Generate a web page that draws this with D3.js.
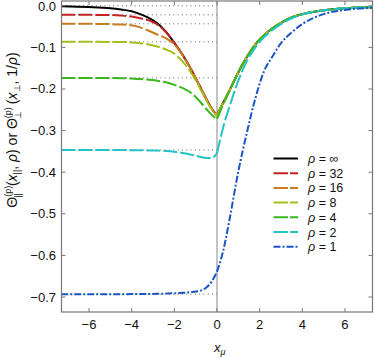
<!DOCTYPE html>
<html>
<head>
<meta charset="utf-8">
<script src="https://cdn.jsdelivr.net/npm/d3@7"></script>
<style>
  body { margin: 0; background: #fff; }
  svg { display: block; font-family: "Liberation Sans", Arial, sans-serif; }
  .tick-label { font-size: 13px; fill: #111; }
  .legend-label { font-size: 12.5px; fill: #111; }
</style>
</head>
<body>
<svg id="plot" width="374" height="358"></svg>
<script>
// x grid shared by every series
const xGrid = [-7.3, -6, -5, -4.5, -4, -3.6, -3.2, -2.8, -2.4, -2, -1.6, -1.2, -0.8, -0.5, -0.25, 0,
  0.3, 0.6, 1, 1.4, 1.8, 2.2, 2.6, 3, 3.5, 4, 5, 6, 7.3];

const rhoInf = [-0.001, -0.003, -0.006, -0.009, -0.013, -0.020, -0.029, -0.042, -0.062, -0.089, -0.119, -0.154, -0.194, -0.224, -0.247, -0.263,
  -0.232, -0.202, -0.160, -0.123, -0.093, -0.071, -0.054, -0.041, -0.028, -0.020, -0.011, -0.006, -0.003];
const rho32 = [-0.0217, -0.0218, -0.0222, -0.0235, -0.026, -0.030, -0.035, -0.045, -0.063, -0.089, -0.119, -0.154, -0.194, -0.224, -0.247, -0.263,
  -0.232, -0.202, -0.160, -0.123, -0.093, -0.071, -0.054, -0.041, -0.028, -0.020, -0.011, -0.006, -0.003];
const rho16 = [-0.0433, -0.0434, -0.0440, -0.0448, -0.047, -0.052, -0.060, -0.069, -0.078, -0.093, -0.120, -0.154, -0.194, -0.224, -0.247, -0.264,
  -0.232, -0.202, -0.160, -0.123, -0.093, -0.071, -0.054, -0.041, -0.028, -0.020, -0.011, -0.006, -0.003];
const rho8 = [-0.0866, -0.0866, -0.0868, -0.087, -0.088, -0.090, -0.093, -0.098, -0.105, -0.115, -0.135, -0.162, -0.198, -0.227, -0.249, -0.265,
  -0.232, -0.202, -0.160, -0.123, -0.093, -0.071, -0.054, -0.041, -0.028, -0.020, -0.011, -0.006, -0.003];
const rho4 = [-0.1733, -0.1733, -0.1735, -0.174, -0.175, -0.176, -0.178, -0.180, -0.184, -0.190, -0.198, -0.210, -0.230, -0.248, -0.262, -0.272,
  -0.236, -0.203, -0.160, -0.123, -0.093, -0.071, -0.054, -0.041, -0.028, -0.020, -0.011, -0.006, -0.003];
const rho2 = [-0.3466, -0.3466, -0.3467, -0.3468, -0.347, -0.3472, -0.3476, -0.348, -0.349, -0.351, -0.354, -0.358, -0.363, -0.366, -0.366, -0.355,
  -0.290, -0.240, -0.180, -0.133, -0.100, -0.076, -0.058, -0.044, -0.030, -0.021, -0.011, -0.006, -0.003];
const rho1 = [-0.6931, -0.6931, -0.6931, -0.6931, -0.6930, -0.6929, -0.6927, -0.6923, -0.6917, -0.691, -0.690, -0.688, -0.685, -0.677, -0.663, -0.639,
  -0.587, -0.510, -0.398, -0.305, -0.222, -0.158, -0.122, -0.090, -0.064, -0.044, -0.020, -0.010, -0.005];

const seriesLabels = ['\u221E', '32', '16', '8', '4', '2', '1'];
const seriesValues = [rhoInf, rho32, rho16, rho8, rho4, rho2, rho1];
const seriesColors = ['#000000', '#c42324', '#c97b1f', '#a3c11d', '#3bb71d', '#22c3c6', '#1a55c2'];
const seriesDash = [null, '14,3', '14,3', '14,3', '14,3', '14,3', '7,2,2,2'];
// left asymptotes -ln2/rho
const asymptotes = [0, -0.0217, -0.0433, -0.0866, -0.1733, -0.3466, -0.6931];

const xTicks = [-6, -4, -2, 0, 2, 4, 6];
const yTicks = [0, -0.1, -0.2, -0.3, -0.4, -0.5, -0.6, -0.7];

const svg = d3.select('#plot');
const plotL = 61.5, plotR = 372.5, plotT = 1, plotB = 312;

const x = d3.scaleLinear().domain([-7.29, 7.29]).range([plotL, plotR]);
const y = d3.scaleLinear().domain([0.0115, -0.736]).range([plotT, plotB]);
const fmt = v => (v === 0 ? '0.0' : d3.format('.1f')(v).replace('-', '\u2212'));

const g = svg.append('g');

// dotted asymptote guides
g.selectAll('.guide')
  .data(asymptotes)
  .join('line')
  .attr('x1', plotL).attr('x2', x(0))
  .attr('y1', d => y(d)).attr('y2', d => y(d))
  .attr('stroke', '#666')
  .attr('stroke-width', 1)
  .attr('stroke-dasharray', '1,3.3');

// vertical line at x = 0
g.append('line')
  .attr('x1', x(0)).attr('x2', x(0))
  .attr('y1', plotT).attr('y2', plotB)
  .attr('stroke', '#888').attr('stroke-width', 1);

// curves, drawn as two monotone pieces so the cusp at 0 stays sharp
const line = d3.line().x(d => x(d[0])).y(d => y(d[1])).curve(d3.curveMonotoneX);
seriesValues.forEach((vals, i) => {
  const pts = xGrid.map((xv, j) => [xv, vals[j]]);
  const leftPts = pts.filter(p => p[0] <= 0);
  const rightPts = pts.filter(p => p[0] >= 0);
  g.append('path')
    .attr('d', line(leftPts) + line(rightPts))
    .attr('fill', 'none')
    .attr('stroke', seriesColors[i])
    .attr('stroke-width', 2)
    .attr('stroke-dasharray', seriesDash[i]);
});

// frame
svg.append('rect')
  .attr('x', plotL).attr('y', plotT)
  .attr('width', plotR - plotL).attr('height', plotB - plotT)
  .attr('fill', 'none').attr('stroke', '#777').attr('stroke-width', 1.2);

// ticks (inside, all four sides)
const tl = 4;
svg.selectAll('.xt')
  .data(xTicks)
  .join('path')
  .attr('d', d => `M${x(d)},${plotB}v${-tl}M${x(d)},${plotT}v${tl}`)
  .attr('stroke', '#777');
svg.selectAll('.yt')
  .data(yTicks)
  .join('path')
  .attr('d', d => `M${plotL},${y(d)}h${tl}M${plotR},${y(d)}h${-tl}`)
  .attr('stroke', '#777');

svg.selectAll('.xl')
  .data(xTicks)
  .join('text')
  .attr('class', 'tick-label')
  .attr('x', d => x(d))
  .attr('y', 329)
  .attr('text-anchor', 'middle')
  .text(d => String(d).replace('-', '\u2212'));
svg.selectAll('.yl')
  .data(yTicks)
  .join('text')
  .attr('class', 'tick-label')
  .attr('x', 56)
  .attr('y', d => Math.max(y(d) + 4.5, 11))
  .attr('text-anchor', 'end')
  .text(fmt);

// axis titles
const xt = svg.append('text')
  .attr('x', 214).attr('y', 352)
  .attr('font-size', 13).attr('fill', '#111');
xt.append('tspan').attr('font-style', 'italic').text('x');
xt.append('tspan').attr('font-style', 'italic').attr('font-size', 9).attr('dy', 3).text('\u03BC');

const yt = svg.append('text')
  .attr('transform', 'translate(17,130) rotate(-90)')
  .attr('text-anchor', 'middle')
  .attr('font-size', 14).attr('fill', '#111');
yt.append('tspan').text('\u0398');
yt.append('tspan').attr('font-size', 9).attr('dy', -6).text('(p)');
yt.append('tspan').attr('font-size', 9).attr('dx', -12).attr('dy', 10).text('||');
yt.append('tspan').attr('dx', 7).attr('dy', -4).text('(');
yt.append('tspan').attr('font-style', 'italic').text('x');
yt.append('tspan').attr('font-size', 9).attr('dy', 3).text('||');
yt.append('tspan').attr('dy', -3).text(', ');
yt.append('tspan').attr('font-style', 'italic').text('\u03C1');
yt.append('tspan').text(') or \u0398');
yt.append('tspan').attr('font-size', 9).attr('dy', -6).text('(p)');
yt.append('tspan').attr('font-size', 9).attr('dx', -12).attr('dy', 10).text('\u22A5');
yt.append('tspan').attr('dx', 7).attr('dy', -4).text('(');
yt.append('tspan').attr('font-style', 'italic').text('x');
yt.append('tspan').attr('font-size', 9).attr('dy', 3).text('\u22A5');
yt.append('tspan').attr('dy', -3).text(', 1/');
yt.append('tspan').attr('font-style', 'italic').text('\u03C1');
yt.append('tspan').text(')');

// legend
const legend = svg.append('g');
seriesLabels.forEach((lab, i) => {
  const ly = 158.5 + i * 14.7;
  legend.append('line')
    .attr('x1', 273.5).attr('x2', 298)
    .attr('y1', ly).attr('y2', ly)
    .attr('stroke', seriesColors[i])
    .attr('stroke-width', 2)
    .attr('stroke-dasharray', seriesDash[i] === null ? null : (i === 6 ? '7,2,2,2' : '14.5,2'));
  const t = legend.append('text')
    .attr('class', 'legend-label')
    .attr('x', 308).attr('y', ly + 4.5);
  t.append('tspan').attr('font-style', 'italic').text('\u03C1');
  t.append('tspan').text(' = ' + lab);
});
</script>
</body>
</html>
